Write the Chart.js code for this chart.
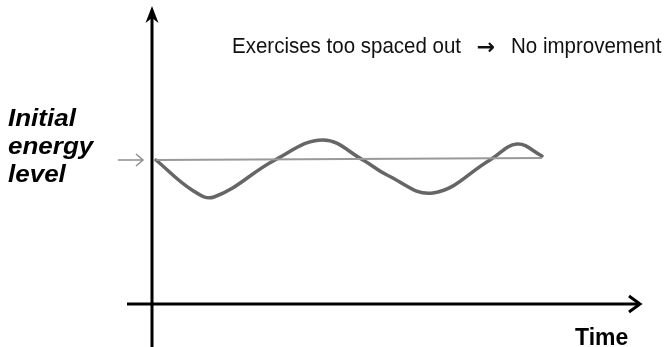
<!DOCTYPE html>
<html>
<head>
<meta charset="utf-8">
<script src="https://cdn.jsdelivr.net/npm/chart.js@4/dist/chart.umd.min.js"></script>
<style>
  html, body { margin: 0; padding: 0; background: #ffffff; }
  #wrap { width: 668px; height: 347px; position: relative; }
</style>
</head>
<body>
<div id="wrap"><canvas id="c" width="668" height="347"></canvas></div>
<script>
// ---- data (time units, energy units) ----
const energyTime  = [0.4, 4.0, 6.2, 12.3, 17.1, 21.1, 23.5, 28.1, 33.8, 36.5, 39.0];
const energyLevel = [14.4, 11.4, 10.7, 14.4, 16.4, 14.4, 12.9, 11.1, 14.4, 16.0, 14.8];
const initialTime  = [0.4, 39.0];
const initialLevel = [14.4, 14.6];
const markerTime   = [-3.4, -0.9];
const markerLevel  = [14.4, 14.4];
const xAxisTime    = [-2.5, 48.8];
const xAxisLevel   = [0, 0];
const yAxisTime    = [0, 0];
const yAxisLevel   = [-4.4, 29.0];
const titleParts   = ["Exercises too spaced out", "\u2192", "No improvement"];
const yLabelLines  = ["Initial", "energy", "level"];
const xLabel       = "Time";

const pts = (xs, ys) => xs.map((x, i) => ({x: x, y: ys[i]}));

const arrowPlugin = {
  id: 'arrows',
  afterDatasetsDraw(chart) {
    const ctx = chart.ctx;
    const xs = chart.scales.x, ys = chart.scales.y;
    ctx.save();
    // top arrowhead of vertical axis
    const tx = xs.getPixelForValue(0);
    const ty = ys.getPixelForValue(29.8);
    ctx.fillStyle = '#000';
    ctx.beginPath();
    ctx.moveTo(tx, ty);
    ctx.lineTo(tx - 6.5, ty + 17);
    ctx.lineTo(tx, ty + 12);
    ctx.lineTo(tx + 6.5, ty + 17);
    ctx.closePath();
    ctx.fill();
    // right chevron of horizontal axis
    const rx = xs.getPixelForValue(xAxisTime[1]);
    const ry = ys.getPixelForValue(0);
    ctx.strokeStyle = '#000';
    ctx.lineWidth = 3;
    ctx.lineJoin = 'miter';
    ctx.beginPath();
    ctx.moveTo(rx - 11, ry - 8);
    ctx.lineTo(rx, ry);
    ctx.lineTo(rx - 11, ry + 8);
    ctx.stroke();
    // small marker arrow chevron
    const mx = xs.getPixelForValue(markerTime[1]);
    const my = ys.getPixelForValue(markerLevel[1]);
    ctx.strokeStyle = '#8c8c8c';
    ctx.lineWidth = 1.5;
    ctx.beginPath();
    ctx.moveTo(mx - 7, my - 6);
    ctx.lineTo(mx, my);
    ctx.lineTo(mx - 7, my + 6);
    ctx.stroke();

    // texts
    ctx.fillStyle = '#111';
    ctx.textBaseline = 'alphabetic';
    ctx.textAlign = 'left';
    ctx.font = '20.5px "Liberation Sans", Arial, sans-serif';
    ctx.save(); ctx.translate(232, 53); ctx.scale(1, 1.08);
    ctx.fillText(titleParts[0], 0, 0); ctx.restore();
    ctx.save(); ctx.translate(511, 53); ctx.scale(1, 1.08);
    ctx.fillText(titleParts[2], 0, 0); ctx.restore();
    ctx.font = 'bold 22px "DejaVu Sans", sans-serif';
    ctx.textAlign = 'center';
    ctx.fillText(titleParts[1], 486, 54);

    ctx.fillStyle = '#000';
    ctx.textAlign = 'left';
    ctx.font = 'italic bold 26px "Liberation Sans", Arial, sans-serif';
    const base = [126, 153.5, 182];
    yLabelLines.forEach((s, i) => {
      ctx.save(); ctx.translate(8, base[i]); ctx.scale(1, 0.95);
      ctx.fillText(s, 0, 0); ctx.restore();
    });
    ctx.font = 'bold 23px "Liberation Sans", Arial, sans-serif';
    ctx.save(); ctx.translate(575, 345); ctx.scale(1, 1.08);
    ctx.fillText(xLabel, 0, 0); ctx.restore();
    ctx.restore();
  }
};

new Chart(document.getElementById('c'), {
  type: 'scatter',
  data: {
    datasets: [
      { data: pts(xAxisTime, xAxisLevel), showLine: true, borderColor: '#000', borderWidth: 3, pointRadius: 0, tension: 0 },
      { data: pts(yAxisTime, yAxisLevel), showLine: true, borderColor: '#000', borderWidth: 3, pointRadius: 0, tension: 0 },
      { data: pts(initialTime, initialLevel), showLine: true, borderColor: '#999999', borderWidth: 2, pointRadius: 0, tension: 0 },
      { data: pts(markerTime, markerLevel), showLine: true, borderColor: '#8c8c8c', borderWidth: 1.5, pointRadius: 0, tension: 0 },
      { data: pts(energyTime, energyLevel), showLine: true, borderColor: '#666666', borderWidth: 3.5, pointRadius: 0, tension: 0.4, borderCapStyle: 'round', borderJoinStyle: 'round' }
    ]
  },
  options: {
    responsive: false,
    animation: false,
    layout: { padding: 0 },
    plugins: { legend: { display: false }, tooltip: { enabled: false }, title: { display: false } },
    elements: { line: { fill: false } },
    scales: {
      x: { type: 'linear', min: -15.2, max: 51.6, display: false },
      y: { type: 'linear', min: -4.3, max: 30.4, display: false }
    }
  },
  plugins: [arrowPlugin]
});
</script>
</body>
</html>
